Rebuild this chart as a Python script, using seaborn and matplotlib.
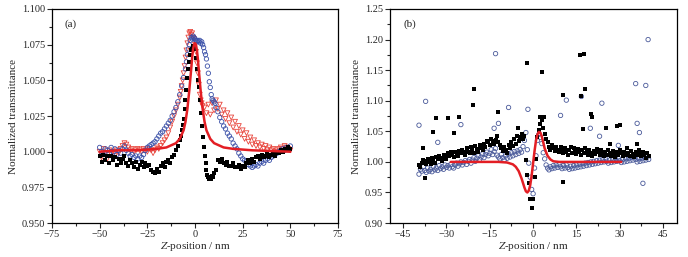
import numpy as np
import pandas as pd
import matplotlib
matplotlib.use("Agg")
import matplotlib.pyplot as plt
from matplotlib.ticker import MultipleLocator, FormatStrFormatter
import seaborn as sns

# ---------------- Panel (a) data ----------------
a_blk_z = [-50,-49,-48,-47,-46,-45,-44,-43,-42,-41,-40,-39,-38,-37,-36,-35,-34,-33,-32,-31,
           -30,-29,-28,-27,-26,-25,-24,-23,-22,-21,-20,-19,-18,-17,-16,-15,-14,-13,-12,-11,
           -10,-9,-8,-7.5,-7,-6.5,-6,-5.5,-5,-4.5,-4,-3.5,-3,-2.5,-2,-1.5,-1,-0.5,0,0.5,
           1,1.5,2,2.5,3,3.5,4,4.5,5,5.5,6,6.5,7,7.5,8,8.5,9,9.5,10,11,
           12,13,14,15,16,17,18,19,20,21,22,23,24,25,26,27,28,29,30,31,
           32,33,34,35,36,37,38,39,40,41,42,43,44,45,46,47,48,49,50]
a_blk_t = [0.997,0.993,0.998,0.994,0.997,0.992,0.997,0.994,0.996,0.991,0.995,0.992,0.995,0.997,0.992,0.990,0.994,0.992,0.989,0.993,
           0.988,0.991,0.993,0.989,0.992,0.990,0.991,0.987,0.986,0.985,0.988,0.986,0.990,0.992,0.989,0.993,0.994,0.992,0.996,0.998,
           1.001,1.004,1.008,1.011,1.015,1.019,1.023,1.030,1.036,1.043,1.052,1.058,1.063,1.068,1.071,1.072,1.074,1.073,1.072,1.066,
           1.058,1.050,1.045,1.036,1.027,1.018,1.010,1.003,0.997,0.992,0.987,0.984,0.982,0.981,0.982,0.981,0.983,0.982,0.985,0.987,
           0.994,0.993,0.995,0.992,0.991,0.993,0.990,0.990,0.992,0.989,0.989,0.991,0.988,0.990,0.989,0.992,0.994,0.992,0.995,0.993,
           0.996,0.997,0.995,0.998,0.996,0.997,0.999,0.996,0.998,0.999,0.997,1.000,0.999,1.001,1.000,1.002,1.001,1.003,1.002]

a_blu_z = [-50,-49,-48,-47,-46,-45,-44,-43,-42,-41,-40,-39,-38,-37,-36,-35,-34,-33,-32,-31,
           -30,-29,-28,-27,-26,-25,-24,-23,-22,-21,-20,-19,-18,-17,-16,-15,-14,-13,-12,-11,
           -10,-9,-8,-7,-6,-5,-4.5,-4,-3.5,-3,-2.5,-2,-1.5,-1,-0.5,0,0.5,1,1.5,2,
           2.5,3,3.5,4,4.5,5,5.5,6,6.5,7,7.5,8,8.5,9,9.5,10,10.5,11,12,13,
           14,15,16,17,18,19,20,21,22,23,24,25,26,27,28,29,30,31,32,33,
           34,35,36,37,38,39,40,41,42,43,44,45,46,47,48,49,50]
a_blu_t = [1.003,1.000,0.998,1.002,1.001,0.999,1.003,1.000,1.002,0.998,1.001,0.999,1.002,1.004,1.001,0.999,0.997,0.998,0.996,0.997,
           0.995,0.997,0.996,0.998,1.001,1.003,1.004,1.005,1.006,1.007,1.009,1.011,1.013,1.014,1.016,1.018,1.020,1.022,1.025,1.028,
           1.031,1.035,1.040,1.046,1.052,1.058,1.063,1.068,1.072,1.075,1.078,1.080,1.079,1.081,1.080,1.079,1.078,1.077,1.078,1.077,
           1.078,1.076,1.077,1.075,1.073,1.070,1.068,1.065,1.060,1.055,1.049,1.045,1.040,1.037,1.036,1.035,1.034,1.031,1.028,1.024,
           1.021,1.018,1.016,1.013,1.011,1.009,1.006,1.004,1.002,0.999,0.997,0.995,0.994,0.993,0.991,0.990,0.989,0.990,0.991,0.990,
           0.992,0.993,0.992,0.994,0.995,0.994,0.996,0.997,0.998,0.999,1.000,1.001,1.002,1.001,1.003,1.002,1.004]

a_red_z = [-50,-49,-48,-47,-46,-45,-44,-43,-42,-41,-40,-39,-38,-37,-36,-35,-34,-33,-32,-31,
           -30,-29,-28,-27,-26,-25,-24,-23,-22,-21,-20,-19,-18,-17,-16,-15,-14,-13,-12,-11,
           -10,-9,-8,-7.5,-7,-6.5,-6,-5.5,-5,-4.5,-4,-3.5,-3,-2.5,-2,-1.5,-1,-0.5,0,0.5,
           1,1.5,2,2.5,3,3.5,4,5,6,7,8,9,10,11,12,13,14,15,16,17,
           18,19,20,21,22,23,24,25,26,27,28,29,30,31,32,33,34,35,36,37,
           38,39,40,41,42,43,44,45,46,47,48,49,50]
a_red_t = [1.000,0.996,1.002,0.999,0.995,1.001,0.998,1.000,0.997,1.001,0.999,1.002,1.004,1.006,1.005,1.003,1.001,1.002,1.000,1.001,
           1.002,1.001,1.000,1.002,1.001,1.000,1.002,1.001,0.999,1.001,1.003,1.002,1.004,1.006,1.008,1.010,1.013,1.017,1.021,1.025,
           1.029,1.033,1.038,1.042,1.046,1.050,1.055,1.060,1.066,1.071,1.076,1.080,1.083,1.084,1.082,1.083,1.080,1.079,1.075,1.070,
           1.062,1.055,1.047,1.040,1.036,1.034,1.032,1.031,1.027,1.033,1.026,1.034,1.029,1.036,1.030,1.033,1.026,1.029,1.023,1.027,
           1.020,1.024,1.017,1.021,1.014,1.018,1.012,1.015,1.009,1.013,1.007,1.010,1.005,1.008,1.004,1.006,1.003,1.005,1.002,1.004,
           1.001,1.003,1.001,1.002,1.000,1.001,1.002,1.003,1.002,1.004,1.003,1.002,1.001]

a_fit_z = [-50,-40,-30,-20,-15,-10,-8,-6,-5,-4,-3,-2,-1.5,-1,-0.5,0,0.5,1,1.5,2,3,4,5,6,8,10,15,20,30,40,50]
a_fit_t = [1.000,1.001,1.001,1.002,1.003,1.006,1.009,1.015,1.021,1.030,1.043,1.058,1.066,1.072,1.075,1.076,1.075,1.071,1.065,1.057,
           1.042,1.030,1.021,1.015,1.009,1.006,1.003,1.002,1.001,1.0005,1.000]

# ---------------- Panel (b) data ----------------
b_blk_z = [-39.5,-39,-38.5,-38,-37.5,-37,-36.5,-36,-35.5,-35,-34.5,-34,-33.5,-33,-32.5,-32,-31.5,-31,-30.5,-30,
           -29.5,-29,-28.5,-28,-27.5,-27,-26.5,-26,-25.5,-25,-24.5,-24,-23.5,-23,-22.5,-22,-21.5,-21,-20.5,-20,
           -19.5,-19,-18.5,-18,-17.5,-17,-16.5,-16,-15.5,-15,-14.5,-14,-13.5,-13,-12.5,-12,-11.5,-11,-10.5,-10,
           -9.5,-9,-8.5,-8,-7.5,-7,-6.5,-6,-5.5,-5,-4.5,-4,-3.5,-3,-2.5,-2,-1.5,-1,-0.5,0,
           0.5,1,1.5,2,2.5,3,3.5,4,4.5,5,5.5,6,6.5,7,7.5,8,8.5,9,9.5,10,
           10.5,11,11.5,12,12.5,13,13.5,14,14.5,15,15.5,16,16.5,17,17.5,18,18.5,19,19.5,20,
           20.5,21,21.5,22,22.5,23,23.5,24,24.5,25,25.5,26,26.5,27,27.5,28,28.5,29,29.5,30,
           30.5,31,31.5,32,32.5,33,33.5,34,34.5,35,35.5,36,36.5,37,37.5,38,38.5,39,39.5,40]
b_blk_t = [0.995,0.992,0.998,1.003,1.001,0.997,1.004,1.000,0.996,1.006,1.003,0.999,1.008,1.004,1.010,1.006,1.002,1.012,1.008,1.005,
           1.014,1.010,1.016,1.012,1.008,1.017,1.013,1.010,1.018,1.014,1.020,1.016,1.012,1.022,1.017,1.014,1.024,1.019,1.015,1.026,
           1.021,1.017,1.028,1.023,1.019,1.030,1.025,1.035,1.032,1.028,1.038,1.034,1.030,1.036,1.042,1.033,1.028,1.022,1.018,1.025,
           1.020,1.015,1.028,1.022,1.032,1.026,1.038,1.030,1.042,1.035,1.040,1.045,1.038,1.042,1.003,0.978,0.965,0.940,0.925,0.940,
           0.975,1.005,1.040,1.052,1.062,1.068,1.055,1.045,1.038,1.032,1.025,1.020,1.028,1.022,1.018,1.025,1.020,1.016,1.024,1.019,
           1.014,1.022,1.017,1.012,1.020,1.025,1.015,1.022,1.018,1.013,1.021,1.016,1.011,1.019,1.014,1.022,1.017,1.012,1.020,1.015,
           1.010,1.018,1.013,1.021,1.016,1.011,1.019,1.014,1.009,1.017,1.012,1.020,1.015,1.010,1.018,1.013,1.008,1.016,1.011,1.019,
           1.014,1.009,1.017,1.012,1.022,1.015,1.010,1.018,1.013,1.008,1.016,1.011,1.020,1.014,1.009,1.017,1.012,1.007,1.015,1.010]
b_blk_out_z = [-37.5,-38,-34.7,-33.5,-29.5,-27.5,-25.6,-20.9,-20.5,-12,-5.3,-2,3.2,3.8,2.5,10.5,10.4,16.5,16.3,17.6,
               18.1,17.3,19.9,20.5,25.1,26.5,28.9,30,35.8]
b_blk_out_t = [0.973,1.022,1.049,1.071,1.071,1.048,1.073,1.093,1.119,1.082,1.055,1.162,1.147,1.073,1.073,1.110,0.967,1.107,1.175,1.176,
               1.119,1.054,1.079,1.073,1.055,1.029,1.059,1.060,1.030]

b_blu_z = b_blk_z
b_blu_t = [0.980,0.988,0.985,0.992,0.986,0.983,0.990,0.985,0.988,0.984,0.992,0.987,0.990,0.986,0.994,0.989,0.992,0.988,0.995,0.991,
           0.994,0.990,0.996,0.992,0.990,0.995,0.998,0.993,0.997,1.000,0.995,0.999,1.002,0.996,1.001,1.004,0.998,1.003,1.007,1.001,
           1.006,1.010,1.004,1.008,1.013,1.007,1.012,1.016,1.010,1.014,1.020,1.012,1.017,1.022,1.011,1.008,1.005,1.012,1.007,1.003,
           1.010,1.006,1.013,1.008,1.015,1.010,1.017,1.012,1.018,1.014,1.020,1.016,1.025,1.035,1.048,1.020,0.998,0.975,0.955,0.948,
           0.990,1.010,1.035,1.045,1.040,1.030,1.015,1.005,0.995,0.990,0.987,0.992,0.989,0.994,0.990,0.995,0.991,0.996,0.992,0.989,
           0.994,0.990,0.995,0.991,0.988,0.993,0.989,0.994,0.990,0.995,0.991,0.996,0.992,0.997,0.993,0.998,0.994,0.999,0.995,1.000,
           0.996,1.001,0.997,1.002,0.998,1.003,0.999,1.004,1.000,1.005,1.001,0.998,1.003,0.999,1.004,1.000,1.005,1.001,1.006,1.002,
           0.999,1.004,1.000,1.005,1.001,1.006,1.002,1.007,1.003,1.008,1.004,1.000,1.005,1.001,1.006,1.002,1.007,1.003,1.008,1.004]
b_blu_out_z = [-39.5,-37.2,-33,-25,-13,-12,-13.5,-8.5,-1.8,11.5,9.5,16.7,19.8,23.8,23,29.5,35.5,36,36.8,38,39,39.8]
b_blu_out_t = [1.060,1.099,1.032,1.061,1.177,1.063,1.055,1.089,1.086,1.101,1.076,1.107,1.055,1.096,1.042,1.027,1.128,1.063,1.048,0.965,1.125,1.200]

b_fit_z = [-28.5,-20,-12,-9,-7,-6,-5,-4,-3,-2.5,-2,-1.5,-1,-0.5,0,0.5,1,1.5,2,2.5,3,3.5,4,5,6,7,9,12,20,30.5]
b_fit_t = [1.000,1.000,1.000,0.999,0.996,0.992,0.985,0.973,0.958,0.952,0.950,0.953,0.962,0.978,0.998,1.018,1.035,1.045,1.049,1.048,
           1.042,1.032,1.022,1.010,1.004,1.001,1.000,1.000,1.000,1.000]

# ---------------- Plot ----------------
sns.set_style("ticks")
plt.rcParams["font.family"] = ["Liberation Serif", "DejaVu Serif"]
plt.rcParams["mathtext.fontset"] = "stix"

fig = plt.figure(figsize=(6.88, 2.57), dpi=100)
axA = fig.add_axes([0.0756, 0.132, 0.4157, 0.833])
axB = fig.add_axes([0.567, 0.132, 0.417, 0.833])

blue = "#3a50a8"
redm = "#e8453c"
redl = "#e31e24"

dfa_blk = pd.DataFrame({"z": a_blk_z, "t": a_blk_t})
dfa_blu = pd.DataFrame({"z": a_blu_z, "t": a_blu_t})
dfa_red = pd.DataFrame({"z": a_red_z, "t": a_red_t})
dfa_fit = pd.DataFrame({"z": a_fit_z, "t": a_fit_t})

sns.scatterplot(data=dfa_red, x="z", y="t", ax=axA, marker="v", s=12, facecolor="none",
                edgecolor=redm, linewidth=0.6, zorder=2)
sns.scatterplot(data=dfa_blu, x="z", y="t", ax=axA, marker="o", s=10, facecolor="none",
                edgecolor=blue, linewidth=0.6, zorder=2)
sns.scatterplot(data=dfa_blk, x="z", y="t", ax=axA, marker="s", s=7, color="black",
                edgecolor="black", linewidth=0, zorder=3)
sns.lineplot(data=dfa_fit, x="z", y="t", ax=axA, color=redl, linewidth=1.8, sort=False, zorder=4)

dfb_blk = pd.DataFrame({"z": b_blk_z + b_blk_out_z, "t": b_blk_t + b_blk_out_t})
dfb_blu = pd.DataFrame({"z": b_blu_z + b_blu_out_z, "t": b_blu_t + b_blu_out_t})
dfb_fit = pd.DataFrame({"z": b_fit_z, "t": b_fit_t})

sns.scatterplot(data=dfb_blu, x="z", y="t", ax=axB, marker="o", s=10, facecolor="none",
                edgecolor="#4a5a9a", linewidth=0.6, zorder=2)
sns.scatterplot(data=dfb_blk, x="z", y="t", ax=axB, marker="s", s=7, color="black",
                edgecolor="black", linewidth=0, zorder=3)
sns.lineplot(data=dfb_fit, x="z", y="t", ax=axB, color=redl, linewidth=1.8, sort=False, zorder=4)

axA.set_xlim(-75, 75)
axA.set_ylim(0.950, 1.100)
axA.xaxis.set_major_locator(MultipleLocator(25))
axA.xaxis.set_minor_locator(MultipleLocator(12.5))
axA.yaxis.set_major_locator(MultipleLocator(0.025))
axA.yaxis.set_minor_locator(MultipleLocator(0.0125))
axA.yaxis.set_major_formatter(FormatStrFormatter("%.3f"))

axB.set_xlim(-49.5, 49.8)
axB.set_ylim(0.90, 1.25)
axB.xaxis.set_major_locator(MultipleLocator(15))
axB.xaxis.set_minor_locator(MultipleLocator(7.5))
axB.yaxis.set_major_locator(MultipleLocator(0.05))
axB.yaxis.set_minor_locator(MultipleLocator(0.025))
axB.yaxis.set_major_formatter(FormatStrFormatter("%.2f"))

for ax, lab in ((axA, "(a)"), (axB, "(b)")):
    ax.set_xlabel("$Z$-position / nm", fontsize=8, labelpad=1)
    ax.set_ylabel("Normalized transmittance", fontsize=8, labelpad=3)
    ax.tick_params(which="major", direction="out", length=3.5, width=0.8, labelsize=7.5, pad=1.5,
                   top=False, right=False)
    ax.tick_params(which="minor", direction="out", length=2, width=0.8, top=False, right=False)
    for sp in ax.spines.values():
        sp.set_visible(True)
        sp.set_linewidth(0.9)
        sp.set_color("black")
    ax.text(0.045, 0.93, lab, transform=ax.transAxes, fontsize=8, ha="left", va="center")
    ax.set_facecolor("white")

fig.savefig("out.png", dpi=100)
